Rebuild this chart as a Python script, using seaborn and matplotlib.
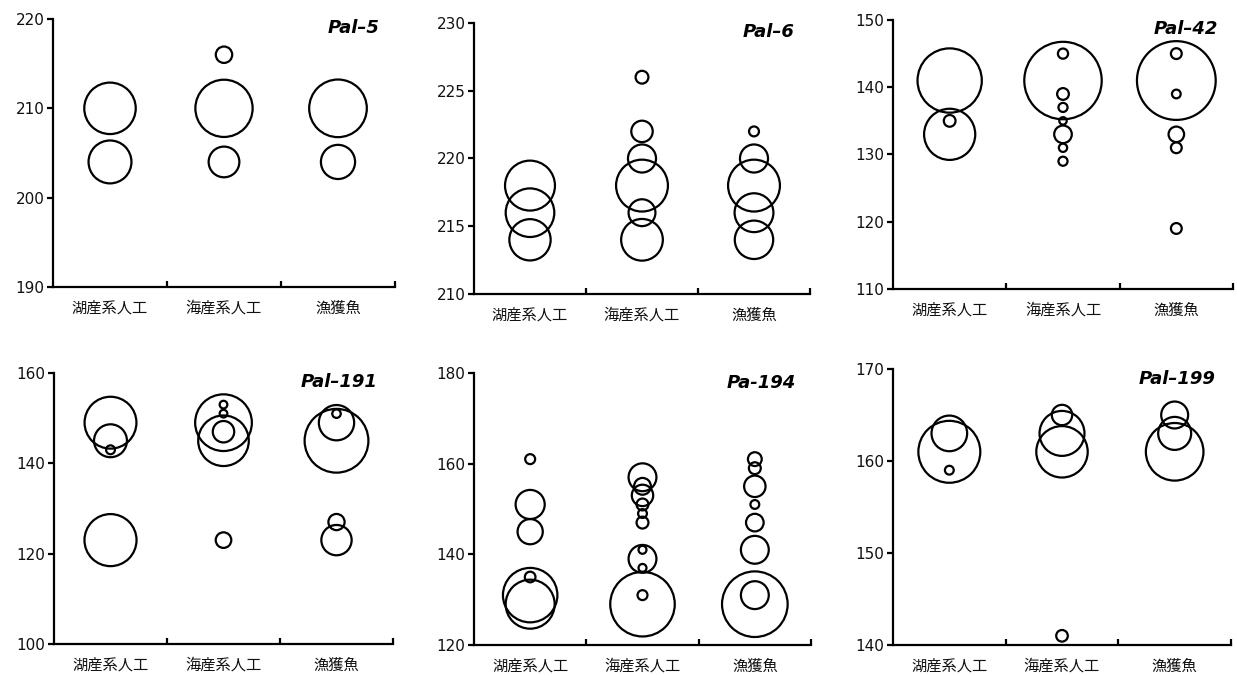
import numpy as np
import pandas as pd
import matplotlib
matplotlib.use("Agg")
import matplotlib.pyplot as plt
import seaborn as sns

# ---------------- data ----------------
CATS = ["湖産系人工", "海産系人工", "漁獲魚"]
L, S, F = CATS

PAL5_GROUP = [L, L, S, S, S, F, F]
PAL5_ALLELE = [210, 204, 216, 210, 204, 210, 204]
PAL5_FREQ = [0.59, 0.41, 0.06, 0.73, 0.21, 0.74, 0.26]

PAL6_GROUP = [L] * 3 + [S] * 6 + [F] * 5
PAL6_ALLELE = [218, 216, 214, 226, 222, 220, 218, 216, 214, 222, 220, 218, 216, 214]
PAL6_FREQ = [0.38, 0.36, 0.26, 0.025, 0.07, 0.12, 0.41, 0.11, 0.265,
             0.015, 0.12, 0.41, 0.23, 0.225]

PAL42_GROUP = [L] * 3 + [S] * 8 + [F] * 6
PAL42_ALLELE = [141, 135, 133,
                145, 141, 139, 137, 135, 133, 131, 129,
                145, 141, 139, 133, 131, 119]
PAL42_FREQ = [0.60, 0.02, 0.38,
              0.015, 0.87, 0.02, 0.012, 0.008, 0.045, 0.01, 0.012,
              0.017, 0.90, 0.011, 0.035, 0.017, 0.017]

PAL191_GROUP = [L] * 4 + [S] * 6 + [F] * 5
PAL191_ALLELE = [149, 145, 143, 123,
                 153, 151, 149, 147, 145, 123,
                 151, 149, 145, 127, 123]
PAL191_FREQ = [0.41, 0.165, 0.012, 0.413,
               0.009, 0.009, 0.49, 0.07, 0.39, 0.037,
               0.011, 0.19, 0.62, 0.04, 0.14]

PA194_GROUP = [L] * 6 + [S] * 11 + [F] * 8
PA194_ALLELE = [161, 151, 145, 135, 131, 129,
                157, 155, 153, 151, 149, 147, 141, 139, 137, 131, 129,
                161, 159, 155, 151, 147, 141, 131, 129]
PA194_FREQ = [0.014, 0.12, 0.09, 0.016, 0.42, 0.34,
              0.11, 0.04, 0.065, 0.02, 0.011, 0.02, 0.009, 0.11, 0.009, 0.014, 0.59,
              0.027, 0.02, 0.065, 0.011, 0.044, 0.11, 0.11, 0.61]

PAL199_GROUP = [L] * 3 + [S] * 4 + [F] * 3
PAL199_ALLELE = [163, 161, 159, 165, 163, 161, 141, 165, 163, 161]
PAL199_FREQ = [0.245, 0.74, 0.015, 0.08, 0.39, 0.51, 0.026, 0.14, 0.21, 0.64]

TITLES = ["Pal–5", "Pal–6", "Pal–42", "Pal–191", "Pa-194", "Pal–199"]
Y_LIMITS = [(190, 220), (210, 230), (110, 150), (100, 160), (120, 180), (140, 170)]
Y_STEPS = [10, 5, 10, 20, 20, 10]

PANELS = [
    (PAL5_GROUP, PAL5_ALLELE, PAL5_FREQ),
    (PAL6_GROUP, PAL6_ALLELE, PAL6_FREQ),
    (PAL42_GROUP, PAL42_ALLELE, PAL42_FREQ),
    (PAL191_GROUP, PAL191_ALLELE, PAL191_FREQ),
    (PA194_GROUP, PA194_ALLELE, PA194_FREQ),
    (PAL199_GROUP, PAL199_ALLELE, PAL199_FREQ),
]

# ---------------- style / layout ----------------
W, H = 1237, 675
DPI = 100
# bubble diameter (px) for frequency 1.0, per panel
BUBBLE_K = [69, 83, 85, 83, 86, 74]
# axes boxes in pixels: left, top, right, bottom
BOXES = [(53, 19, 395, 287), (474, 23, 810, 294), (893, 20, 1233, 289),
         (54, 373, 393, 644), (474, 373, 811, 645), (893, 369, 1231, 645)]

sns.set_style("white")
plt.rcParams["font.family"] = ["Noto Sans CJK JP", "DejaVu Sans"]

fig = plt.figure(figsize=(W / DPI, H / DPI), dpi=DPI)

for i, (grp, allele, freq) in enumerate(PANELS):
    l, t, r, b = BOXES[i]
    ax = fig.add_axes([l / W, 1 - b / H, (r - l) / W, (b - t) / H])
    df = pd.DataFrame({"group": grp, "allele": allele, "freq": freq})
    smax = ((BUBBLE_K[i] - 2) * 72 / DPI) ** 2
    sns.scatterplot(data=df, x="group", y="allele", size="freq",
                    sizes=(0, smax), size_norm=(0, 1), legend=False,
                    facecolor="none", edgecolor="black", linewidth=1.6,
                    ax=ax, zorder=3, clip_on=False)
    for coll in ax.collections:
        coll.set_facecolor("none")
        coll.set_edgecolor("black")
        coll.set_linewidth(1.6)

    lo, hi = Y_LIMITS[i]
    ax.set_ylim(lo, hi)
    ax.set_yticks(np.arange(lo, hi + 0.1, Y_STEPS[i]))
    ax.set_xlim(-0.5, 2.5)
    ax.set_xticks([0, 1, 2])
    ax.set_xticklabels(CATS)
    ax.set_xticks([0.5, 1.5, 2.5], minor=True)
    ax.set_xlabel("")
    ax.set_ylabel("")

    for side in ("top", "right"):
        ax.spines[side].set_visible(False)
    for side in ("left", "bottom"):
        ax.spines[side].set_linewidth(1.6)
        ax.spines[side].set_color("black")

    ax.tick_params(axis="x", which="major", length=0, pad=9,
                   labelsize=11, labelcolor="#111111")
    ax.tick_params(axis="x", which="minor", direction="in", length=4,
                   width=1.6, color="black", bottom=True)
    ax.tick_params(axis="y", which="major", direction="out", length=4,
                   width=1.6, color="black", pad=2, left=True,
                   labelsize=11, labelcolor="#111111")
    for lab in ax.get_yticklabels():
        lab.set_family(["DejaVu Sans"])
    ax.grid(False)

    ax.text(0.955, 0.965, TITLES[i], transform=ax.transAxes, ha="right",
            va="center", fontsize=13, fontweight="bold", fontstyle="italic",
            color="black", family=["DejaVu Sans"])

fig.savefig("out.png", dpi=DPI)
